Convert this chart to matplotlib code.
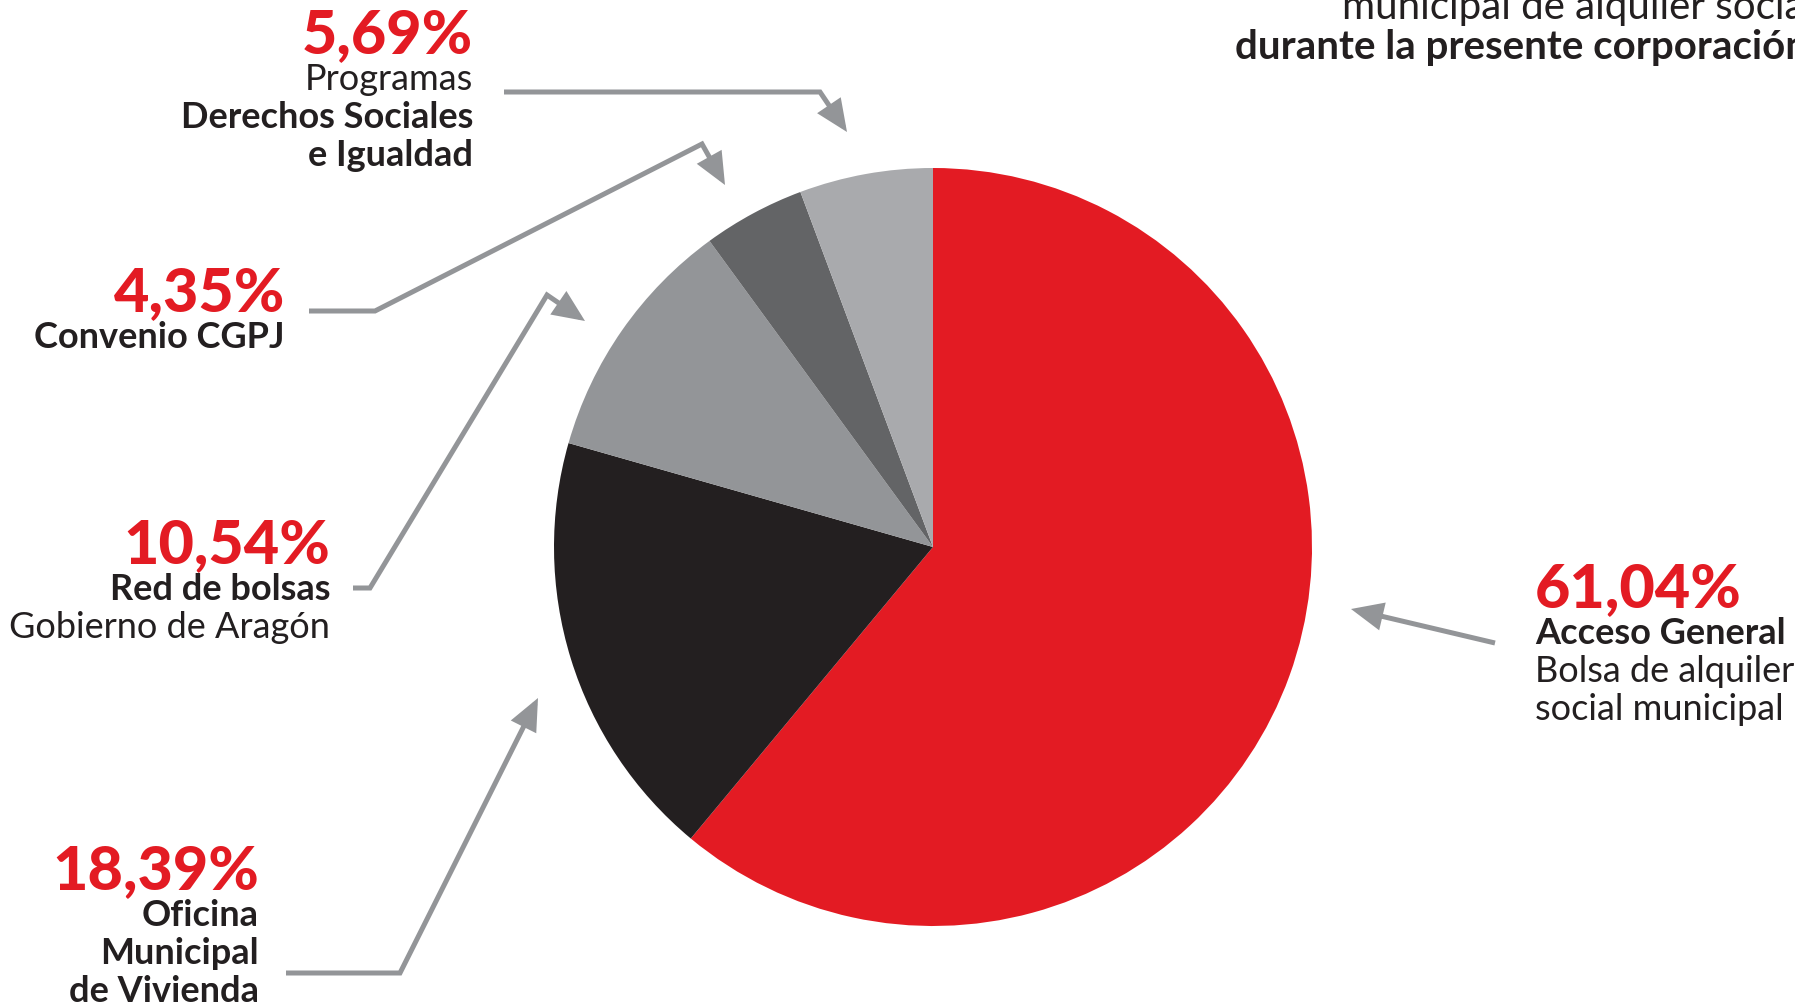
from __future__ import annotations

import matplotlib

matplotlib.use("Agg")
import matplotlib.pyplot as plt
from matplotlib.patches import FancyArrowPatch
from matplotlib.path import Path

# Canvas is laid out in image pixels (origin top-left), converted to data y below.
W, H = 1795, 1008

# Shares of the municipal social rental pool, clockwise from 12 o'clock
categories = [
    "Acceso General",
    "Oficina Municipal de Vivienda",
    "Red de bolsas Gobierno de Aragón",
    "Convenio CGPJ",
    "Programas Derechos Sociales e Igualdad",
]
shares = [61.04, 18.39, 10.54, 4.35, 5.69]
pct_labels = ["61,04%", "18,39%", "10,54%", "4,35%", "5,69%"]
slice_colors = ["#E31B23", "#231F20", "#939598", "#636466", "#A9AAAD"]

# label lines under each percentage: (text, bold)
label_lines = [
    [("Acceso General", True), ("Bolsa de alquiler", False), ("social municipal", False)],
    [("Oficina", True), ("Municipal", True), ("de Vivienda", True)],
    [("Red de bolsas", True), ("Gobierno de Aragón", False)],
    [("Convenio CGPJ", True)],
    [("Programas", False), ("Derechos Sociales", True), ("e Igualdad", True)],
]

title_lines = [("municipal de alquiler social", False), ("durante la presente corporación", True)]

RED = "#E31B23"
INK = "#231F20"
ARROW = "#939598"
FONT = ["Lato", "DejaVu Sans"]

# layout: anchor x, percentage baseline y, horizontal alignment
label_anchor = [
    (1535, 607, "left"),
    (259, 889, "right"),
    (330, 563, "right"),
    (285, 311, "right"),
    (473, 53, "right"),
]
LINE_STEP = 37.5

# leader lines, last point is the arrow tip
leaders = [
    [(1495, 643), (1351, 609)],
    [(286, 973), (400, 973), (538, 698)],
    [(353, 588), (370, 588), (547, 295), (585, 321)],
    [(309, 311), (375, 311), (702, 144), (725, 185)],
    [(504, 92), (820, 92), (847, 132)],
]

PIE_CENTER = (933, 547)
PIE_RADIUS = 379


def fy(y: float) -> float:
    return H - y


def draw_label(ax, idx: int) -> None:
    x, y, ha = label_anchor[idx]
    ax.text(x, fy(y), pct_labels[idx], ha=ha, va="baseline", color=RED,
            fontsize=44, fontweight="black", family=FONT)
    for k, (txt, bold) in enumerate(label_lines[idx]):
        ax.text(x, fy(y + LINE_STEP * (k + 1)), txt, ha=ha, va="baseline", color=INK,
                fontsize=26, fontweight="bold" if bold else "normal", family=FONT)


def draw_leader(ax, pts) -> None:
    verts = [(px, fy(py)) for px, py in pts]
    codes = [Path.MOVETO] + [Path.LINETO] * (len(verts) - 1)
    arrow = FancyArrowPatch(
        path=Path(verts, codes),
        arrowstyle="-|>,head_length=17,head_width=7.5",
        mutation_scale=1,
        lw=3.6,
        color=ARROW,
        shrinkA=0,
        shrinkB=0,
        joinstyle="miter",
        capstyle="butt",
    )
    ax.add_patch(arrow)


def main():
    fig = plt.figure(figsize=(W / 100, H / 100), dpi=100)
    fig.patch.set_facecolor("white")
    ax = fig.add_axes([0, 0, 1, 1])

    ax.pie(
        shares,
        colors=slice_colors,
        startangle=90,
        counterclock=False,
        center=(PIE_CENTER[0], fy(PIE_CENTER[1])),
        radius=PIE_RADIUS,
        wedgeprops={"linewidth": 0},
    )
    ax.set_xlim(0, W)
    ax.set_ylim(0, H)
    ax.set_aspect("equal")
    ax.axis("off")

    for i in range(len(categories)):
        draw_label(ax, i)
        draw_leader(ax, leaders[i])

    # header, cut by the frame on the right as in the source
    ax.text(1342, fy(19), title_lines[0][0], ha="left", va="baseline", color=INK,
            fontsize=29, family=FONT)
    ax.text(1235, fy(59), title_lines[1][0], ha="left", va="baseline", color=INK,
            fontsize=29, fontweight="bold", family=FONT)

    fig.savefig("out.png", dpi=100, facecolor="white")
    plt.close(fig)


if __name__ == "__main__":
    main()
